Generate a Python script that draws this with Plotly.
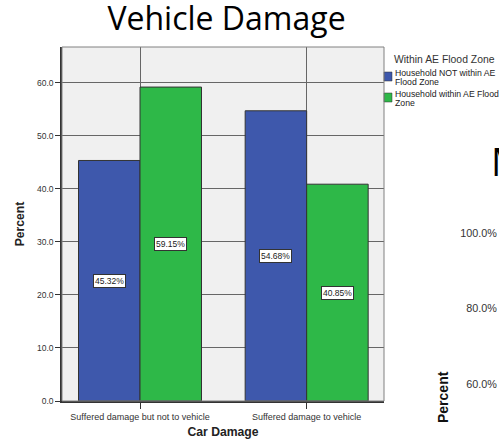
import plotly.graph_objects as go

# Car damage by flood-zone status (percent of households)
categories = ["Suffered damage but not to vehicle", "Suffered damage to vehicle"]
series_names = ["Household NOT within AE Flood Zone", "Household within AE Flood Zone"]
legend_lines = [["Household NOT within AE", "Flood Zone"], ["Household within AE Flood", "Zone"]]
not_in_zone = [45.32, 54.68]
in_zone = [59.15, 40.85]
series_values = [not_in_zone, in_zone]
colors = ["#3E58AC", "#2EB848"]
y_ticks = [0, 10, 20, 30, 40, 50, 60]
next_chart_ticks = [60, 80, 100]

W, H = 499, 439
L, R, T, B = 62, 0, 47, 38
plot_w = 384 - L
paper_w = W - L - R
x_dom = plot_w / paper_w

bar_width_px = 61.5
SANS = "Liberation Sans, Arial, sans-serif"
label_font = dict(family=SANS, size=8.5, color="#222")

fig = go.Figure()
for name, vals, col in zip(series_names, series_values, colors):
    fig.add_trace(go.Bar(
        x=categories, y=vals, name=name,
        marker=dict(color=col, line=dict(color="#333333", width=1)),
        showlegend=False, hoverinfo="skip",
    ))

# invisible trace so the neighbouring percent axis is drawn
fig.add_trace(go.Scatter(x=[None], y=[None], yaxis="y2", showlegend=False, hoverinfo="skip"))

# value labels in white boxes at half bar height
annotations = []
for si, vals in enumerate(series_values):
    shift = (-1 if si == 0 else 1) * bar_width_px / 2
    for cat, v in zip(categories, vals):
        annotations.append(dict(
            x=cat, y=v / 2, xref="x", yref="y", text=f"{v:.2f}%",
            showarrow=False, xshift=shift, font=label_font,
            bgcolor="white", bordercolor="#333", borderwidth=1, borderpad=1,
        ))

def px_x(px):
    return (px - L) / paper_w

def px_y(py):
    return (H - B - py) / (H - B - T)

# legend
legend_font = dict(family=SANS, size=8.7, color="#222")
annotations.append(dict(
    x=px_x(392), y=px_y(59), xref="paper", yref="paper", text="Within AE Flood Zone",
    showarrow=False, xanchor="left", yanchor="middle",
    font=dict(family=SANS, size=10.4, color="#333"),
))
shapes = []
item_tops = [72, 93]
for col, lines, top in zip(colors, legend_lines, item_tops):
    shapes.append(dict(
        type="rect", xref="paper", yref="paper",
        x0=px_x(384), x1=px_x(392), y0=px_y(top), y1=px_y(top + 9),
        fillcolor=col, line=dict(color="#333", width=0.5),
    ))
    for li, line in enumerate(lines):
        annotations.append(dict(
            x=px_x(393), y=px_y(top + 1 + li * 9), xref="paper", yref="paper", text=line,
            showarrow=False, xanchor="left", yanchor="middle", font=legend_font,
        ))

# plot frame (top and right edges)
shapes.append(dict(
    type="rect", xref="x domain", yref="y domain", x0=0, x1=1, y0=0, y1=1,
    line=dict(color="#808080", width=1), layer="above",
))

# neighbouring chart: title start and axis title
annotations.append(dict(
    x=px_x(489), y=px_y(161), xref="paper", yref="paper", text="M",
    showarrow=False, xanchor="left", yanchor="middle",
    font=dict(family="Open Sans, sans-serif", size=38, color="#000"),
))
annotations.append(dict(
    x=px_x(443), y=px_y(397), xref="paper", yref="paper", text="<b>Percent</b>",
    showarrow=False, textangle=-90, xanchor="center", yanchor="middle",
    font=dict(family=SANS, size=14, color="#111"),
))

tick_font = dict(family=SANS, size=8.5, color="#333")
cat_font = dict(family=SANS, size=9, color="#333")
axis_title_font = dict(family=SANS, size=12.2, color="#222")

fig.update_layout(
    width=W, height=H,
    margin=dict(l=L, r=R, t=T, b=B, pad=0, autoexpand=False),
    paper_bgcolor="white", plot_bgcolor="#F0F0F0",
    barmode="group", bargap=0.262, bargroupgap=0,
    title=dict(
        text="Vehicle Damage", x=px_x(226.5), xref="paper", xanchor="center",
        y=1 - 19 / H, yref="container", yanchor="middle",
        font=dict(family="Open Sans, sans-serif", size=32, color="#000"),
    ),
    xaxis=dict(
        type="category", domain=[0, x_dom], range=[-0.468, 1.464],
        showgrid=True, gridcolor="#666", gridwidth=1,
        showline=True, linecolor="#333", linewidth=1.5,
        ticks="outside", ticklen=6, tickcolor="#333", tickfont=cat_font,
        title=dict(text="<b>Car Damage</b>", font=axis_title_font, standoff=7),
        automargin=False, fixedrange=True,
    ),
    yaxis=dict(
        range=[0, 66.7], tickvals=y_ticks, tickformat=".1f", ticksuffix="%",
        showgrid=True, gridcolor="#666", gridwidth=1, zeroline=False,
        showline=True, linecolor="#333", linewidth=1.5,
        ticks="outside", ticklen=5, tickcolor="#333", tickfont=tick_font,
        title=dict(text="<b>Percent</b>", font=axis_title_font, standoff=10),
        automargin=False, fixedrange=True,
    ),
    yaxis2=dict(
        overlaying="y", anchor="free", position=px_x(499), side="left",
        range=[55.5, 149.3], tickmode="array", tickvals=next_chart_ticks,
        ticktext=[f"{v:.1f}%" for v in next_chart_ticks],
        showgrid=False, zeroline=False, showline=False,
        ticks="outside", ticklen=0, tickcolor="rgba(0,0,0,0)",
        tickfont=dict(family=SANS, size=10.8, color="#333"),
        automargin=False, fixedrange=True,
    ),
    annotations=annotations, shapes=shapes,
)

fig.write_html("out.html")
